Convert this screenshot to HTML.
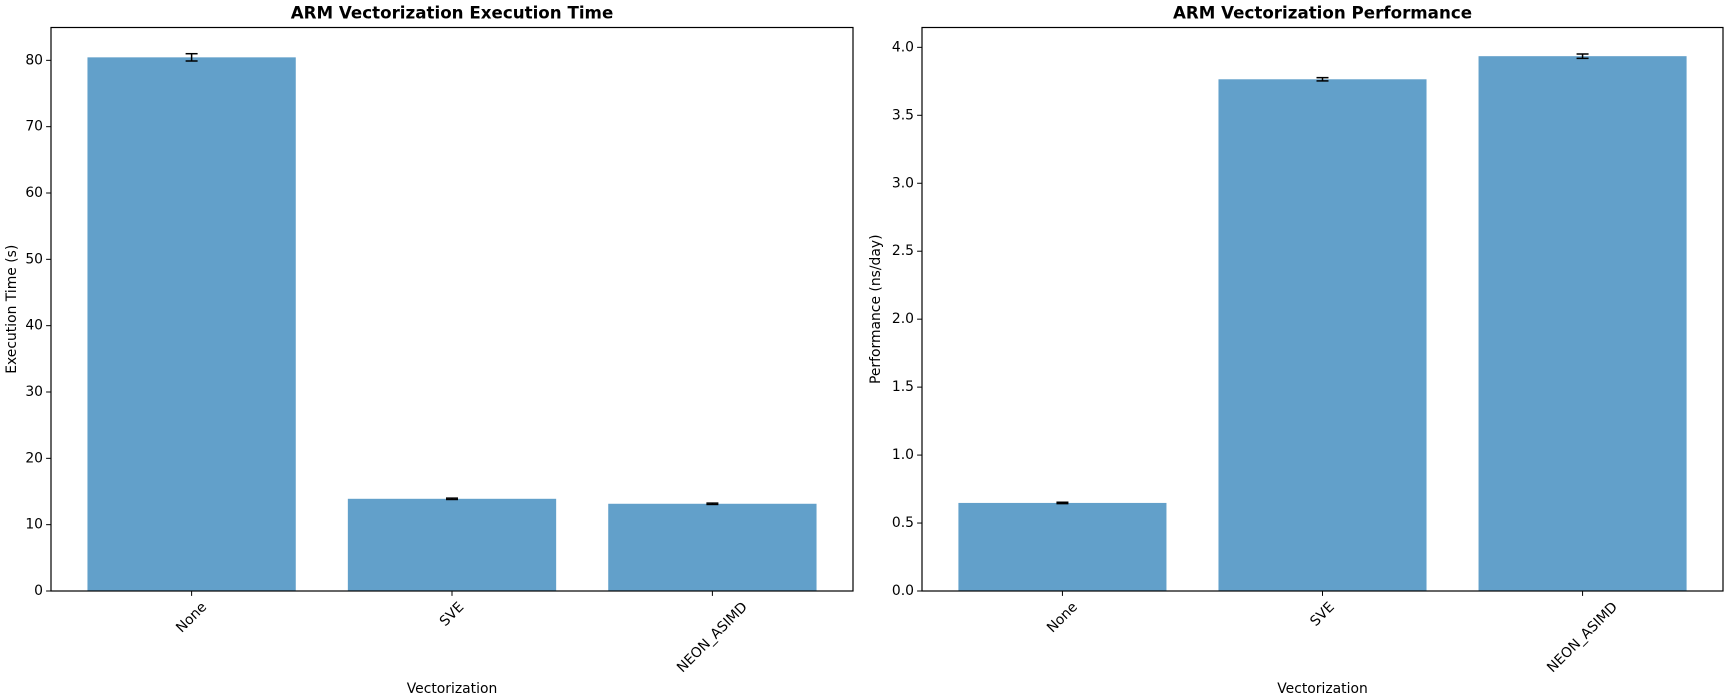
<!DOCTYPE html>
<html><head><meta charset="utf-8"><style>
html,body{margin:0;padding:0;background:#fff;}
svg{display:block;font-family:"DejaVu Sans","Liberation Sans",sans-serif;}
</style></head><body>
<svg id="chart" width="1728" height="700" viewBox="0 0 1728 700"></svg>
<script>
const categories = ["None","SVE","NEON_ASIMD"];
const timeValues = [80.45, 13.9, 13.15];
const timeErrors = [0.55, 0.1, 0.1];
const perfValues = [0.648, 3.765, 3.935];
const perfErrors = [0.005, 0.012, 0.016];
const timeTicks = [0,10,20,30,40,50,60,70,80];
const timeTickLabels = ["0","10","20","30","40","50","60","70","80"];
const perfTicks = [0,0.5,1,1.5,2,2.5,3,3.5,4];
const perfTickLabels = ["0.0","0.5","1.0","1.5","2.0","2.5","3.0","3.5","4.0"];

const NS="http://www.w3.org/2000/svg";
const svg=document.getElementById('chart');
function mk(tag,attrs,parent){const e=document.createElementNS(NS,tag);for(const k in attrs)e.setAttribute(k,attrs[k]);(parent||svg).appendChild(e);return e;}

function panel(cfg){
  const {L,R,T,B,ymax,values,errors,ticks,tickLabels,title,ylabel,name,ylabelX}=cfg;
  const g=mk('g',{});
  
  
  const xmin=-0.54,xmax=2.54;
  const xs=v=>L+(v-xmin)/(xmax-xmin)*(R-L);
  const ys=v=>B-(v/ymax)*(B-T);
  const bw=xs(0.8)-xs(0);
  values.forEach((v,i)=>{
    const r=mk('rect',{x:xs(i)-bw/2,y:ys(v),width:bw,height:B-ys(v),fill:'#62a0ca'},g);
    
    
  });
  errors.forEach((e,i)=>{
    const cx=xs(i),y1=ys(values[i]-e),y2=ys(values[i]+e);
    const eg=mk('g',{stroke:'#000','stroke-width':1.5},g);
    
    
    mk('line',{x1:cx,x2:cx,y1:y1,y2:y2},eg);
    mk('line',{x1:cx-6,x2:cx+6,y1:y1,y2:y1},eg);
    mk('line',{x1:cx-6,x2:cx+6,y1:y2,y2:y2},eg);
  });
  const frame=mk('rect',{x:L,y:T,width:R-L,height:B-T,fill:'none',stroke:'#000','stroke-width':1.2},g);
  
  
  ticks.forEach((t,i)=>{
    const y=ys(t);
    mk('line',{x1:L-4.9,x2:L,y1:y,y2:y,stroke:'#000','stroke-width':1},g);
    const tx=mk('text',{x:L-8,y:y,'text-anchor':'end','dominant-baseline':'central','font-size':13.9,fill:'#000'},g);
    tx.textContent=tickLabels[i];
    
    
  });
  categories.forEach((c,i)=>{
    const x=xs(i);
    mk('line',{x1:x,x2:x,y1:B,y2:B+4.9,stroke:'#000','stroke-width':1},g);
    const tx=mk('text',{x:0,y:0,'text-anchor':'middle','dominant-baseline':'central','font-size':13.9,fill:'#000'},g);
    tx.textContent=c;
    
    
    const w=tx.getComputedTextLength(),h=14;
    const cy=B+4.9+4+(w+h)/(2*Math.SQRT2);
    tx.setAttribute('transform','translate('+x+','+cy+') rotate(-45)');
  });
  const ti=mk('text',{x:(L+R)/2,y:T-9,'text-anchor':'middle','font-size':16.7,'font-weight':'bold',fill:'#000'},g);
  ti.textContent=title;
  
  
  const xl=mk('text',{x:(L+R)/2,y:693,'text-anchor':'middle','font-size':13.9,fill:'#000'},g);
  xl.textContent='Vectorization';
  
  
  const yl=mk('text',{x:0,y:0,'text-anchor':'middle','font-size':13.9,fill:'#000',transform:'translate('+ylabelX+','+((T+B)/2)+') rotate(-90)'},g);
  yl.textContent=ylabel;
  
  
}
panel({L:51,R:853,T:27.5,B:591,ymax:84.95,values:timeValues,errors:timeErrors,ticks:timeTicks,tickLabels:timeTickLabels,title:'ARM Vectorization Execution Time',ylabel:'Execution Time (s)',name:'execution-time',ylabelX:16});
panel({L:922,R:1723,T:27.5,B:591,ymax:4.146,values:perfValues,errors:perfErrors,ticks:perfTicks,tickLabels:perfTickLabels,title:'ARM Vectorization Performance',ylabel:'Performance (ns/day)',name:'performance',ylabelX:880});
</script>
</body></html>
